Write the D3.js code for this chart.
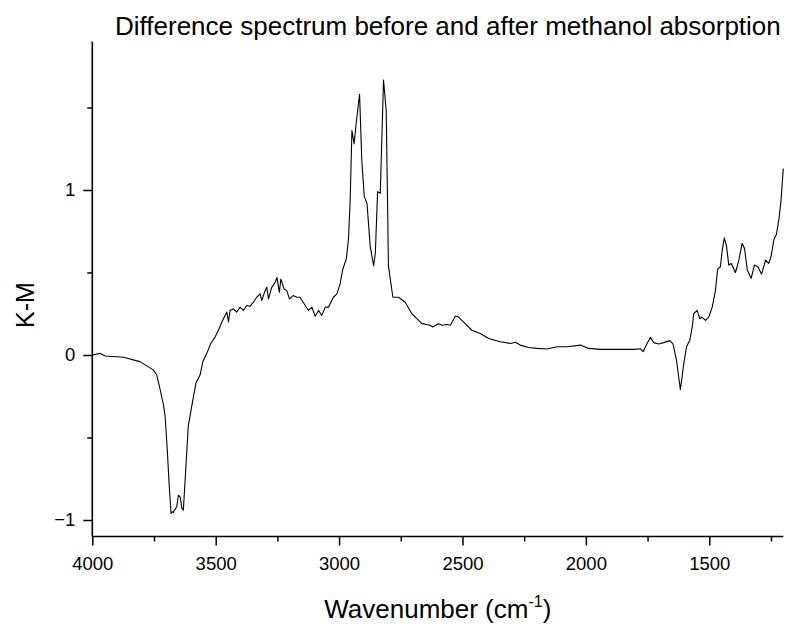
<!DOCTYPE html>
<html>
<head>
<meta charset="utf-8">
<script src="https://cdn.jsdelivr.net/npm/d3@7"></script>
<style>
  html, body { margin: 0; padding: 0; background: #fff; }
  svg { display: block; }
  text { font-family: "Liberation Sans", Arial, sans-serif; fill: #000; }
</style>
</head>
<body>
<svg id="chart" width="795" height="624"></svg>
<script>
// ---- data ----
const wavenumbers = [
  4000,3969,3948,3874,3807,3753,3739,3725,3712,3705,3696,3688,3681,3676,3672,3667,3658,3651,3644,3637,
  3631,3620,3611,3597,3580,3563,3552,3536,3520,3502,3489,3475,3462,3455,3448,3442,3428,3415,3401,3388,
  3374,3361,3347,3334,3320,3313,3300,3293,3286,3273,3259,3252,3242,3236,3223,3212,3201,3186,3171,3158,
  3150,3137,3124,3110,3097,3083,3070,3056,3043,3023,3009,2996,2985,2971,2962,2955,2948,2939,2931,2917,
  2908,2898,2887,2874,2860,2853,2844,2833,2820,2809,2800,2782,2759,2732,2705,2685,2664,2631,2620,2597,
  2583,2563,2549,2529,2516,2489,2462,2428,2394,2347,2306,2286,2266,2232,2198,2157,2117,2076,2022,1989,
  1941,1873,1806,1779,1768,1752,1738,1725,1705,1685,1660,1647,1633,1617,1603,1592,1579,1569,1563,1549,
  1539,1530,1515,1502,1488,1475,1466,1455,1447,1439,1430,1421,1411,1394,1380,1367,1357,1346,1330,1317,
  1303,1288,1272,1259,1249,1238,1228,1218,1209,1200
];
const kmValues = [
  0,0.01,-0.006,-0.014,-0.04,-0.09,-0.12,-0.21,-0.30,-0.37,-0.58,-0.80,-0.96,-0.95,-0.955,-0.94,-0.92,-0.85,-0.86,-0.93,
  -0.94,-0.66,-0.43,-0.31,-0.17,-0.12,-0.04,0.01,0.07,0.11,0.15,0.20,0.24,0.26,0.20,0.27,0.28,0.26,0.29,0.27,
  0.30,0.295,0.32,0.35,0.37,0.33,0.39,0.41,0.34,0.41,0.44,0.47,0.38,0.46,0.40,0.39,0.34,0.36,0.35,0.35,
  0.33,0.30,0.27,0.29,0.235,0.27,0.24,0.29,0.29,0.35,0.37,0.43,0.52,0.58,0.70,0.94,1.36,1.28,1.40,1.58,
  1.18,0.96,0.92,0.66,0.54,0.62,0.99,0.98,1.667,1.48,0.54,0.35,0.35,0.32,0.25,0.22,0.19,0.18,0.17,0.19,
  0.18,0.185,0.18,0.236,0.23,0.19,0.15,0.13,0.10,0.08,0.07,0.077,0.06,0.045,0.04,0.036,0.05,0.05,0.06,0.04,
  0.034,0.034,0.034,0.038,0.02,0.07,0.107,0.075,0.067,0.075,0.087,0.067,-0.03,-0.21,-0.05,0.05,0.09,0.17,0.25,0.27,
  0.22,0.23,0.21,0.23,0.29,0.39,0.52,0.535,0.64,0.71,0.66,0.545,0.555,0.50,0.575,0.677,0.645,0.515,0.465,0.545,
  0.535,0.49,0.575,0.555,0.60,0.70,0.73,0.82,0.94,1.13
];
const xMajorTicks = [4000, 3500, 3000, 2500, 2000, 1500];
const xMinorTicks = [3750, 3250, 2750, 2250, 1750, 1250];
const yMajorTicks = [-1, 0, 1];
const yMinorTicks = [-0.5, 0.5, 1.5];
const titleText = "Difference spectrum before and after methanol absorption";
const xLabelText = "Wavenumber (cm";
const xLabelSup = "-1";
const yLabelText = "K-M";

// ---- layout ----
const svg = d3.select("#chart");
const plotLeft = 92.3, plotRight = 783.3, plotTop = 41.5, plotBottom = 536.5;

const x = d3.scaleLinear().domain([4000, 1200]).range([plotLeft, plotRight]);
const y = d3.scaleLinear().domain([-1.1, 1.9]).range([plotBottom, plotTop]);

const points = wavenumbers.map((w, i) => ({ w, v: kmValues[i] }));

// line
const line = d3.line().x(d => x(d.w)).y(d => y(d.v));
svg.append("path")
  .datum(points)
  .attr("d", line)
  .attr("fill", "none")
  .attr("stroke", "#000")
  .attr("stroke-width", 1.1)
  .attr("stroke-linejoin", "round");

// x axis
const xAxis = d3.axisBottom(x).tickValues(xMajorTicks).tickSize(9).tickPadding(11).tickFormat(d3.format("d"));
const xAxisMinor = d3.axisBottom(x).tickValues(xMinorTicks).tickSize(5).tickFormat("");
const gx = svg.append("g").attr("transform", `translate(0,${plotBottom})`).call(xAxis);
const gxm = svg.append("g").attr("transform", `translate(0,${plotBottom})`).call(xAxisMinor);
gx.select(".domain").attr("d", `M${plotLeft},0H${plotRight}`).attr("stroke-width", 1.6);
gxm.select(".domain").remove();
[gx, gxm].forEach(g => g.selectAll(".tick line").attr("stroke-width", 1.5));
gx.selectAll(".tick text").attr("font-size", 18.5).attr("font-family", "Liberation Sans, Arial, sans-serif");

// y axis
const yAxis = d3.axisLeft(y).tickValues(yMajorTicks).tickSize(9).tickPadding(8).tickFormat(d3.format("d"));
const yAxisMinor = d3.axisLeft(y).tickValues(yMinorTicks).tickSize(5).tickFormat("");
const gy = svg.append("g").attr("transform", `translate(${plotLeft},0)`).call(yAxis);
const gym = svg.append("g").attr("transform", `translate(${plotLeft},0)`).call(yAxisMinor);
gy.select(".domain").attr("d", `M0,${plotTop}V${plotBottom}`).attr("stroke-width", 1.6);
gym.select(".domain").remove();
[gy, gym].forEach(g => g.selectAll(".tick line").attr("stroke-width", 1.5));
gy.selectAll(".tick text").attr("font-size", 18.5).attr("font-family", "Liberation Sans, Arial, sans-serif");

// title
svg.append("text")
  .attr("x", 115).attr("y", 35)
  .attr("font-size", 26)
  .text(titleText);

// x label
const xl = svg.append("text")
  .attr("x", (plotLeft + plotRight) / 2).attr("y", 618)
  .attr("text-anchor", "middle")
  .attr("font-size", 26);
xl.append("tspan").text(xLabelText);
xl.append("tspan").attr("font-size", 16).attr("dy", -11).text(xLabelSup);
xl.append("tspan").attr("dy", 11).text(")");

// y label
svg.append("text")
  .attr("transform", "translate(34,305) rotate(-90)")
  .attr("text-anchor", "middle")
  .attr("font-size", 25)
  .text(yLabelText);
</script>
</body>
</html>
